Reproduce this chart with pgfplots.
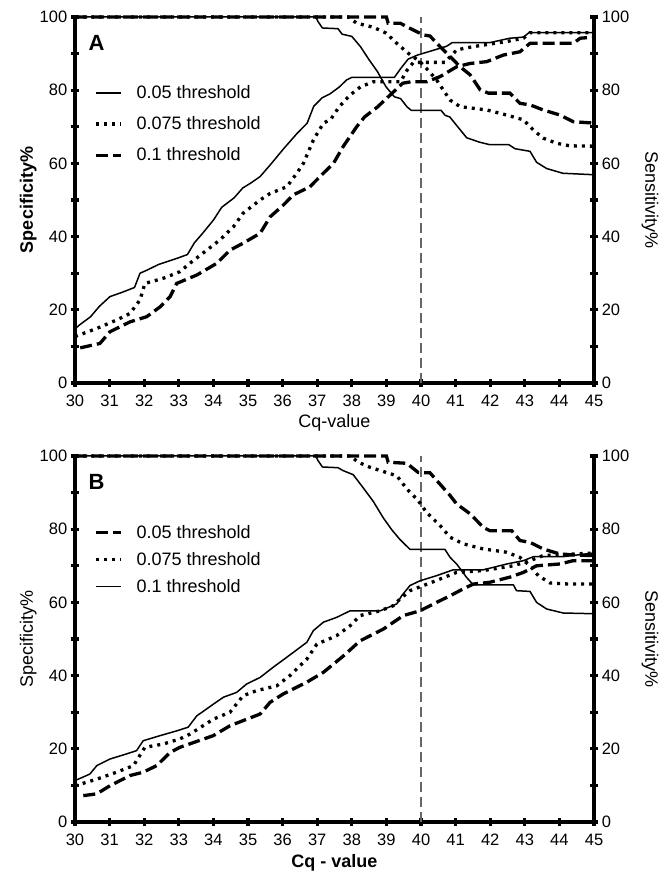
\documentclass[border=0pt]{standalone}
\usepackage{pgfplots}
\pgfplotsset{compat=1.18}
\usepackage{fontspec}
\setmainfont{Liberation Sans}
\setsansfont{Liberation Sans}

\pgfplotsset{
  every tick/.append style={line width=3.2pt, black},
  every major tick/.append style={line width=3.2pt, black},
  every minor tick/.append style={line width=3.2pt, black},
  roc/.style={
    width=519pt, height=366pt, scale only axis,
    xmin=30, xmax=45, ymin=0, ymax=100,
    xtick={30,31,...,45},
    ytick={0,20,...,100}, minor ytick={10,30,50,70,90},
    tick align=outside,
    major tick length=8.5pt, minor tick length=8.5pt,
    /pgf/number format/assume math mode=true,
    tick label style={font=\fontsize{16.5}{18}\selectfont},
    xticklabel style={yshift=-4pt},
    label style={font=\fontsize{18}{20}\selectfont},
    clip=false,
  },
  noarrow/.style={axis line style={line width=3.4pt, -}},
  sol/.style={black, line width=1.5pt, line join=round},
  dot/.style={black, line width=3.3pt, dash pattern=on 3pt off 5pt},
  dsh/.style={black, line width=3.3pt, dash pattern=on 12pt off 5pt},
  cutoff/.style={gray!80!black, line width=2pt, dash pattern=on 10pt off 5pt},
  leg/.style={legend style={at={(axis cs:30.55,#1)}, anchor=north west, draw=none, fill=none,
    font=\fontsize{18}{20}\selectfont, inner sep=0pt,
    /tikz/every odd column/.append style={column sep=12pt}},
    legend cell align=left,
    legend image code/.code={\draw[##1] (0pt,0pt) -- (25pt,0pt);}},
}

\begin{document}
\begin{tikzpicture}
\path[use as bounding box] (0,0) rectangle (665pt,874pt);

% ---------------- panel A ----------------
\begin{axis}[roc, at={(75pt,491pt)}, anchor=south west,
  axis x line=bottom, axis y line=left, noarrow,
  xlabel={Cq-value}, ylabel={\textbf{Specificity\%}},
  x label style={at={(axis description cs:0.5,-0.11)}, anchor=center},
  y label style={at={(axis description cs:-0.09,0.5)}, anchor=center},
  leg=81.8, legend style={row sep=12.5pt},
]
\addplot[cutoff, forget plot] coordinates {(40,0) (40,100)};
% specificity
\addplot[sol] coordinates {
(30,100) (36.96,100) (37.02,98.8) (37.15,97) (37.6,96.8) (37.72,95.3) (38.0,94.7)
(38.25,91.9) (38.5,88.3) (38.74,85.1) (38.99,80.9) (39.23,78.2) (39.41,77.7)
(39.6,75.4) (39.72,74.5) (40.58,74.5) (40.7,73.1) (40.83,72.7) (41.07,69.9)
(41.32,67.0) (41.69,65.8) (41.99,65.1) (42.54,65.1) (42.72,64) (43.15,63.3)
(43.34,60.3) (43.63,58.6) (44.1,57.3) (45,56.9)};
\addplot[dot] coordinates {
(30,100) (37.9,100) (38.14,98.3) (38.62,97.2) (38.99,95.6) (39.3,92.8) (39.63,90.1)
(39.97,87.8) (40.2,85.5) (40.45,82.8) (40.84,77.3) (41.13,75.5) (41.9,74.6)
(42.48,73.2) (42.96,71.9) (43.25,69.1) (43.53,66.9) (43.92,65.5) (44.3,64.8) (45,64.7)};
\addplot[dsh] coordinates {
(30,100) (39.0,100) (39.05,98.3) (39.4,98.3) (39.68,96.9) (40.07,95.1) (40.26,94.8)
(40.55,91.9) (40.84,89.2) (41.13,86.4) (41.42,84.2) (41.71,80.1) (41.95,79.2)
(42.57,79.2) (42.86,76.4) (43.15,76) (43.53,74.6) (44.02,73.2) (44.4,71.4) (45,71)};
\legend{0.05 threshold, 0.075 threshold, 0.1 threshold}
\node[font=\bfseries\fontsize{22}{24}\selectfont] at (axis cs:30.62,93) {A};
\end{axis}

\begin{axis}[roc, at={(75pt,491pt)}, anchor=south west,
  axis x line=none, axis y line=right, noarrow,
  ylabel={Sensitivity\%},
  y label style={at={(axis description cs:1.108,0.5)}, anchor=center, rotate=180,
    font=\fontsize{18}{20}\selectfont},
]
% sensitivity
\addplot[sol] coordinates {
(30,14.8) (30.15,16) (30.45,18.1) (30.7,20.9) (31.01,23.6) (31.37,24.8) (31.72,26.1)
(31.88,30.0) (32.05,30.7) (32.42,32.4) (32.99,34.2) (33.25,35.1) (33.45,38.3)
(33.68,40.8) (34.0,44.5) (34.24,48) (34.6,50.6) (34.85,53.3) (35.06,54.5) (35.35,56.4)
(35.67,59.9) (36.02,63.9) (36.41,68.1) (36.71,71) (36.9,75.6) (37.14,77.9)
(37.37,79.0) (37.63,80.8) (37.85,82.8) (38.0,83.5) (39.23,83.5) (39.42,86.0)
(39.63,88.5) (39.9,89.6) (40.74,92.0) (40.9,93) (41.99,93) (42.57,94.2) (42.96,94.5)
(43.12,95.7) (45,95.7)};
\addplot[dot] coordinates {
(30,12.7) (30.63,14.9) (31.2,17.2) (31.59,19) (31.88,22.7) (32.02,27.2) (32.55,28.6)
(33.03,30.4) (33.32,32.7) (33.81,36.3) (34.19,39.1) (34.58,42.7) (34.86,46.4)
(35.35,50) (35.64,51.8) (36.12,53.6) (36.41,57.3) (36.6,60) (36.89,66.4) (37.18,71)
(37.39,72.0) (37.63,75.4) (37.94,78.6) (38.25,80.9) (38.62,82.3) (39.41,82.3)
(39.6,85.5) (39.78,87.6) (40.69,87.6) (41.03,91) (41.51,91.9) (42.48,93.3)
(42.96,94.2) (43.15,95.7) (45,95.7)};
\addplot[dsh] coordinates {
(30.15,9.6) (30.72,10.8) (31.01,14) (31.59,16.7) (32.07,18.1) (32.46,20.8) (32.75,23.6)
(32.94,27.2) (33.52,29.5) (34.1,32.7) (34.48,36.3) (34.86,38.2) (35.35,40.9)
(35.64,45.4) (36.02,48.6) (36.31,51.4) (36.79,53.6) (37.08,56.4) (37.47,60)
(37.75,64.6) (38.14,70) (38.37,72.7) (38.74,75.4) (39.1,78.6) (39.47,81.9)
(39.72,82.3) (40.16,82.3) (40.55,83.7) (41.03,86.4) (41.42,87.3) (41.9,87.8)
(42.38,89.6) (42.86,90.5) (43.15,92.8) (44.4,92.8) (44.6,94.2) (45,94.5)};
\end{axis}

% ---------------- panel B ----------------
\begin{axis}[roc, at={(75pt,52pt)}, anchor=south west,
  axis x line=bottom, axis y line=left, noarrow,
  xlabel={\textbf{Cq - value}}, ylabel={Specificity\%},
  x label style={at={(axis description cs:0.5,-0.112)}, anchor=center},
  y label style={at={(axis description cs:-0.09,0.5)}, anchor=center},
  leg=81.7, legend style={row sep=8.5pt},
]
\addplot[cutoff, forget plot] coordinates {(40,0) (40,100)};
% specificity
\addplot[dsh] coordinates {
(30,100) (39.0,100) (39.05,98.3) (39.59,98.0) (39.92,95.5) (40.26,95.4) (40.55,92.3)
(40.84,89.2) (41.03,86.9) (41.42,84.2) (41.8,80.5) (41.99,79.6) (42.62,79.6)
(42.86,76.9) (43.15,76.4) (43.53,74.6) (44.02,73.2) (44.5,72.9) (45,72.8)};
\addplot[dot] coordinates {
(30,100) (37.95,100) (38.19,98.3) (38.53,96.9) (39.3,94.6) (39.59,91) (39.92,87.8)
(40.16,84.6) (40.55,81) (40.84,77.8) (41.22,76) (41.8,74.6) (42.48,73.7) (42.86,72.3)
(43.15,70) (43.39,67.3) (43.73,65.3) (44.3,65) (45,65)};
\addplot[sol] coordinates {
(30,100) (36.96,100) (37.02,98.8) (37.15,97) (37.6,96.8) (37.75,96) (38.04,94.9)
(38.33,91.3) (38.62,87.6) (38.91,83.1) (39.15,79.9) (39.39,77.2) (39.68,74.5)
(40.69,74.5) (40.84,72.3) (41.03,70.5) (41.32,66.8) (41.51,64.8) (42.67,64.8)
(42.76,63.2) (43.15,63) (43.34,60) (43.63,58.2) (44.11,57.1) (45,56.9)};
\legend{0.05 threshold, 0.075 threshold, 0.1 threshold}
\node[font=\bfseries\fontsize{22}{24}\selectfont] at (axis cs:30.62,93) {B};
\end{axis}

\begin{axis}[roc, at={(75pt,52pt)}, anchor=south west,
  axis x line=none, axis y line=right, noarrow,
  ylabel={Sensitivity\%},
  y label style={at={(axis description cs:1.108,0.5)}, anchor=center, rotate=180,
    font=\fontsize{18}{20}\selectfont},
]
% sensitivity
\addplot[sol] coordinates {
(30,11.3) (30.43,13.1) (30.63,15.4) (31.01,17.2) (31.49,18.6) (31.78,19.5) (31.97,22.2)
(32.46,23.6) (32.94,24.9) (33.27,25.9) (33.52,29) (34.0,32.2) (34.29,34.1) (34.67,35.4)
(34.96,37.7) (35.35,39.5) (35.73,42.3) (36.12,45) (36.7,49.1) (36.89,52.3) (37.18,54.6)
(37.56,55.9) (37.95,57.7) (38.82,57.7) (39.3,59.6) (39.44,61.8) (39.68,64.6)
(39.97,65.9) (40.45,67.3) (40.93,68.9) (41.8,68.9) (42.48,70.5) (42.96,71.4)
(43.25,72.5) (44.11,72.5) (45,73.5)};
\addplot[dot] coordinates {
(30,9.9) (30.63,11.7) (31.2,13.6) (31.69,15.4) (32.02,20.4) (32.55,21.3) (33.03,22.7)
(33.32,24) (34,28.1) (34.48,30) (34.86,34.5) (35.25,35.9) (35.83,37.2) (36.21,40)
(36.7,44.5) (36.99,48.6) (37.56,50.9) (37.95,53.6) (38.24,56.4) (38.82,57.7)
(39.2,59.1) (39.39,60.9) (39.68,63.2) (40.07,64.6) (40.45,66) (41.03,68.2) (41.8,68.7)
(42.67,70) (43.15,71.4) (43.53,72.8) (45,73.5)};
\addplot[dsh] coordinates {
(30.24,7.2) (30.63,7.7) (31.01,9.9) (31.59,12.7) (31.97,13.6) (32.36,15.4) (32.75,19)
(33.03,20.4) (34.0,23.6) (34.48,26.3) (35.35,29.5) (35.64,32.7) (36.02,35) (36.7,38.2)
(37.18,40.9) (37.76,45.4) (38.24,49.5) (38.91,52.7) (39.49,56.4) (39.97,57.7)
(40.45,60) (40.84,61.8) (41.22,63.7) (41.51,65) (41.99,65.5) (42.57,66.9) (42.96,68.2)
(43.34,70) (44.02,70.5) (44.4,71.4) (45,71.4)};
\end{axis}
\end{tikzpicture}
\end{document}
